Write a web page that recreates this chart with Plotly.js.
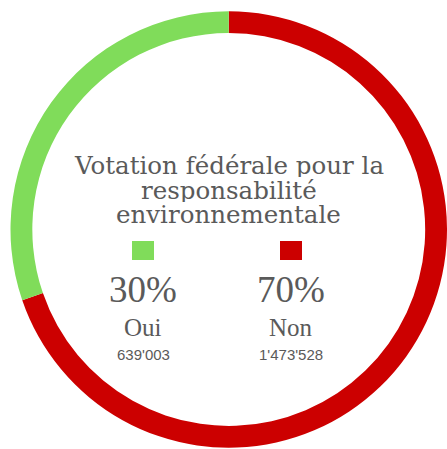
<!DOCTYPE html>
<html><head><meta charset="utf-8">
<script src="https://cdn.plot.ly/plotly-3.0.1.min.js"></script>
<style>body{margin:0;background:#fff}#c{width:447px;height:449px}</style>
</head><body><div id="c"></div>
<script>
const labels = ["Oui", "Non"];
const votes = [639003, 1473528];
const percents = ["30%", "70%"];
const counts = ["639'003", "1'473'528"];
const colors = ["#80DC5A", "#CC0000"];
const titleLines = ["Votation fédérale pour la", "responsabilité", "environnementale"];

const W = 447, H = 449;
const px = x => x / W, py = y => 1 - y / H;
const serif = "Liberation Serif, serif";
const txt = "#5a5a5a";

// Non drawn first clockwise from 12 o'clock so that Oui ends at 12 o'clock on the left
const trace = {
  type: "pie", values: votes.slice().reverse(), labels: labels.slice().reverse(),
  sort: false, direction: "clockwise",
  hole: 0.9, textinfo: "none", hoverinfo: "label+value+percent",
  marker: {colors: colors.slice().reverse(), line: {width: 0}},
  domain: {x: [10.5 / W, 1], y: [1 / H, 1 - 11 / H]}, showlegend: false
};

const ann = [];
const titleY = [165, 190, 214];
const base = {xref: "paper", yref: "paper", showarrow: false, xanchor: "center", yanchor: "middle"};
titleLines.forEach((t, i) => ann.push(Object.assign({}, base, {x: px(229), y: py(titleY[i]),
  text: t, height: 23, borderpad: 0, font: {family: "DejaVu Serif, serif", size: 24.5, color: txt}})));
const colX = [143, 291];
labels.forEach((l, i) => {
  ann.push(Object.assign({}, base, {x: px(colX[i]), y: py(289), text: percents[i],
    font: {family: serif, size: 37, color: txt}}));
  ann.push(Object.assign({}, base, {x: px(colX[i]), y: py(327), text: l,
    font: {family: serif, size: 25, color: txt}}));
  ann.push(Object.assign({}, base, {x: px(colX[i]), y: py(354), text: counts[i],
    font: {family: "Liberation Sans, Arial, sans-serif", size: 15, color: txt}}));
});
const shapes = colors.map((c, i) => ({type: "rect", xref: "paper", yref: "paper",
  x0: px(colX[i] - 11), x1: px(colX[i] + 11), y0: py(260), y1: py(241),
  fillcolor: c, line: {width: 0}}));

Plotly.newPlot("c", [trace], {
  width: W, height: H, margin: {l: 0, r: 0, t: 0, b: 0},
  paper_bgcolor: "#fff", annotations: ann, shapes: shapes
}, {displayModeBar: false, staticPlot: true});
</script></body></html>
